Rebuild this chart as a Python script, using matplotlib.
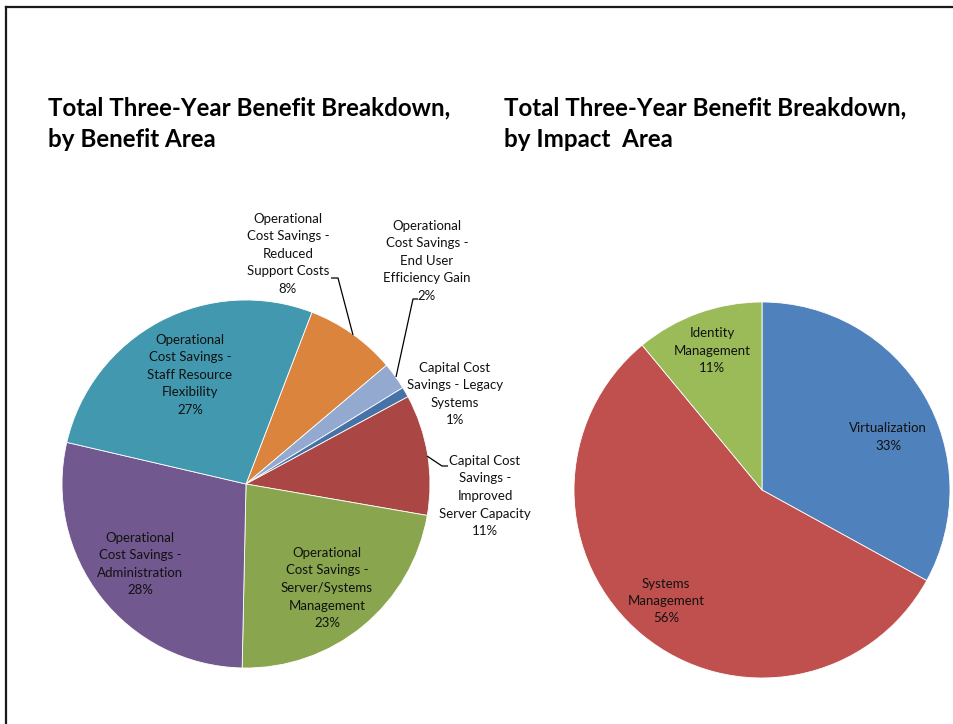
import matplotlib
matplotlib.use("Agg")
import matplotlib.pyplot as plt
from matplotlib.lines import Line2D

# ---------------- data ----------------
left_title = "Total Three-Year Benefit Breakdown,\nby Benefit Area"
left_categories = [
    "Operational\nCost Savings -\nReduced\nSupport Costs",
    "Operational\nCost Savings -\nEnd User\nEfficiency Gain",
    "Capital Cost\nSavings - Legacy\nSystems",
    "Capital Cost\nSavings -\nImproved\nServer Capacity",
    "Operational\nCost Savings -\nServer/Systems\nManagement",
    "Operational\nCost Savings -\nAdministration",
    "Operational\nCost Savings -\nStaff Resource\nFlexibility",
]
left_values = [8.0, 2.4, 0.9, 10.6, 22.6, 28.3, 27.2]
left_colors = ["#DB843D", "#93A9CF", "#4572A7", "#AA4643", "#89A54E", "#71588F", "#4198AF"]

right_title = "Total Three-Year Benefit Breakdown,\nby Impact  Area"
right_categories = ["Virtualization", "Systems\nManagement", "Identity\nManagement"]
right_values = [33, 56, 11]
right_colors = ["#4F81BD", "#C0504D", "#9BBB59"]

# ---------------- layout (pixel coordinates, origin top-left) ----------------
W, H = 954, 724
FONT = ["Lato", "DejaVu Sans"]
left_center, left_radius, left_start = (246, 484), 184, 69
right_center, right_radius, right_start = (762, 490), 188, 90
left_label_pos = [(288, 254), (427, 261), (455, 394), (485, 496), (327, 588), (140, 564), (190, 375)]
right_label_pos = [(888, 437), (666, 601), (712, 351)]
leaders = [
    [(331, 278), (338, 278), (353, 335)],
    [(418, 299), (413, 299), (396, 377)],
    [(448, 466), (442, 466), (427, 456)],
]

def Y(y):
    return H - y

fig = plt.figure(figsize=(W / 100, H / 100), dpi=100)
ax = fig.add_axes([0, 0, 1, 1])

wp = dict(edgecolor="white", linewidth=0.6)
ax.pie(left_values, colors=left_colors, startangle=left_start, counterclock=False,
       center=(left_center[0], Y(left_center[1])), radius=left_radius, wedgeprops=wp)
ax.pie(right_values, colors=right_colors, startangle=right_start, counterclock=False,
       center=(right_center[0], Y(right_center[1])), radius=right_radius, wedgeprops=wp)

ax.set_xlim(0, W)
ax.set_ylim(0, H)
ax.set_aspect("equal")
ax.axis("off")

def pct(v, total):
    return f"{round(v / total * 100):d}%"

LBL = dict(ha="center", va="center", fontsize=9.5, family=FONT, color="#111111", linespacing=1.55)
lt = sum(left_values)
for cat, v, (x, y) in zip(left_categories, left_values, left_label_pos):
    ax.text(x, Y(y), cat + "\n" + pct(v, lt), **LBL)
rt = sum(right_values)
for cat, v, (x, y) in zip(right_categories, right_values, right_label_pos):
    ax.text(x, Y(y), cat + "\n" + pct(v, rt), **LBL)

for pts in leaders:
    ax.plot([p[0] for p in pts], [Y(p[1]) for p in pts], color="black", lw=0.9,
            solid_capstyle="butt")

TTL = dict(ha="left", va="top", fontsize=17.35, fontweight="bold", family=FONT,
           color="black", linespacing=1.49)
ax.text(48, Y(96), left_title, **TTL)
ax.text(504, Y(96), right_title, **TTL)

# frame lines (top and left)
fig.add_artist(Line2D([6.5 / W, 953 / W], [1 - 6.5 / H, 1 - 6.5 / H], transform=fig.transFigure,
                      color="#1a1a1a", lw=1.6))
fig.add_artist(Line2D([6.5 / W, 6.5 / W], [0, 1 - 6.5 / H], transform=fig.transFigure,
                      color="#1a1a1a", lw=1.6))

fig.savefig("out.png", dpi=100, facecolor="white")
